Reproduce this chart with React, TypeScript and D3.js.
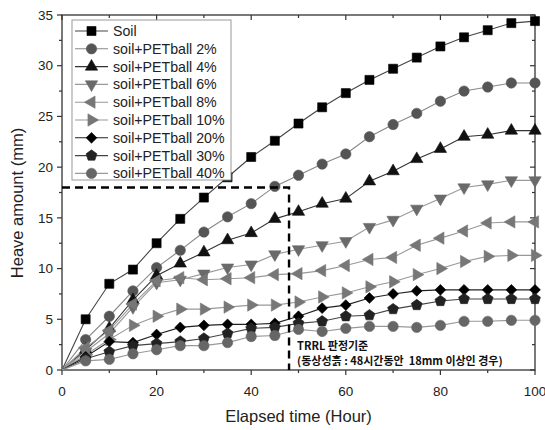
import { useEffect, useRef } from 'react';
import * as d3 from 'd3';

const hours = [0, 5, 10, 15, 20, 25, 30, 35, 40, 45, 50, 55, 60, 65, 70, 75, 80, 85, 90, 95, 100];

const soil = [0, 5.0, 8.5, 9.9, 12.5, 14.9, 17.0, 19.0, 21.0, 22.6, 24.3, 25.9, 27.3, 28.6, 29.7, 30.8, 31.9, 32.8, 33.5, 34.2, 34.4];
const pet2 = [0, 3.0, 5.3, 7.8, 10.1, 11.8, 13.6, 15.1, 16.4, 18.1, 19.2, 20.3, 21.3, 23.0, 24.2, 25.3, 26.5, 27.5, 27.9, 28.3, 28.3];
const pet4 = [0, 2.0, 4.1, 6.9, 9.3, 10.5, 11.6, 12.8, 13.5, 14.9, 15.6, 16.4, 16.9, 18.6, 19.6, 20.8, 21.8, 23.0, 23.2, 23.6, 23.6];
const pet6 = [0, 1.8, 3.6, 6.2, 8.6, 8.9, 9.5, 10.1, 10.4, 11.4, 11.9, 12.3, 12.7, 14.1, 14.8, 15.9, 16.9, 18.0, 18.3, 18.7, 18.7];
const pet8 = [0, 2.2, 3.9, 6.5, 8.8, 9.1, 8.9, 9.0, 9.1, 9.4, 9.5, 9.8, 10.3, 10.9, 11.1, 12.3, 13.0, 13.7, 14.5, 14.6, 14.6];
const pet10 = [0, 1.5, 3.0, 4.4, 5.3, 6.0, 6.0, 6.2, 6.4, 6.4, 6.7, 7.2, 7.6, 8.2, 8.7, 9.4, 10.0, 10.7, 11.2, 11.3, 11.3];
const pet20 = [0, 1.3, 2.8, 2.7, 3.5, 4.2, 4.4, 4.5, 4.5, 4.6, 5.3, 6.1, 6.4, 7.1, 7.5, 7.8, 7.9, 7.9, 7.9, 7.9, 7.9];
const pet30 = [0, 1.1, 1.8, 2.4, 2.6, 2.8, 3.1, 3.6, 4.1, 4.2, 4.6, 4.8, 5.3, 5.4, 6.0, 6.4, 6.8, 7.0, 7.0, 7.0, 7.0];
const pet40 = [0, 0.9, 1.05, 1.6, 2.0, 2.4, 2.4, 2.7, 3.3, 3.4, 4.0, 3.8, 4.1, 4.3, 4.3, 4.2, 4.4, 4.8, 4.8, 4.9, 4.9];

const seriesLabels = ['Soil', 'soil+PETball 2%', 'soil+PETball 4%', 'soil+PETball 6%', 'soil+PETball 8%', 'soil+PETball 10%', 'soil+PETball 20%', 'soil+PETball 30%', 'soil+PETball 40%'];
const seriesValues = [soil, pet2, pet4, pet6, pet8, pet10, pet20, pet30, pet40];

const xTicks = [0, 20, 40, 60, 80, 100];
const yTicks = [0, 5, 10, 15, 20, 25, 30, 35];

// TRRL criterion: 18 mm within 48 h
const criterionHour = 48;
const criterionHeave = 18;

// pentagon marker
const symbolPentagon = {
  draw(context: any, size: number) {
    const r = Math.sqrt(size / 2.378);
    for (let i = 0; i < 5; i++) {
      const a = -Math.PI / 2 + (i * 2 * Math.PI) / 5;
      const x = r * Math.cos(a);
      const y = r * Math.sin(a);
      if (i === 0) context.moveTo(x, y);
      else context.lineTo(x, y);
    }
    context.closePath();
  },
};

const styles = [
  { symbol: d3.symbolSquare, size: 82, rotate: 0, fill: '#000', line: '#444' },
  { symbol: d3.symbolCircle, size: 84, rotate: 0, fill: '#555', line: '#888' },
  { symbol: d3.symbolTriangle, size: 66, rotate: 0, fill: '#111', line: '#333' },
  { symbol: d3.symbolTriangle, size: 66, rotate: 180, fill: '#6a6a6a', line: '#999' },
  { symbol: d3.symbolTriangle, size: 66, rotate: -90, fill: '#777', line: '#999' },
  { symbol: d3.symbolTriangle, size: 66, rotate: 90, fill: '#777', line: '#999' },
  { symbol: d3.symbolSquare, size: 58, rotate: 45, fill: '#000', line: '#222' },
  { symbol: symbolPentagon, size: 78, rotate: 0, fill: '#222', line: '#444' },
  { symbol: d3.symbolCircle, size: 84, rotate: 0, fill: '#666', line: '#999' },
];

const App = () => {
  const svgRef = useRef<SVGSVGElement>(null);

  useEffect(() => {
    const svg = d3.select(svgRef.current);
    svg.selectAll('*').remove();

    const width = 545;
    const height = 430;
    const margin = { top: 15, right: 10, bottom: 60, left: 62 };
    const plotW = width - margin.left - margin.right;
    const plotH = height - margin.top - margin.bottom;

    svg.attr('width', width).attr('height', height);

    const x = d3.scaleLinear().domain([0, 100]).range([margin.left, margin.left + plotW]);
    const y = d3.scaleLinear().domain([0, 35]).range([margin.top + plotH, margin.top]);

    const font = 'Liberation Sans, Arial, sans-serif';
    const axisColor = '#333';

    // frame
    svg
      .append('rect')
      .attr('x', margin.left)
      .attr('y', margin.top)
      .attr('width', plotW)
      .attr('height', plotH)
      .attr('fill', 'none')
      .attr('stroke', axisColor)
      .attr('stroke-width', 1.3);

    const xMinor = d3.range(10, 100, 20);
    const yMinor = d3.range(2.5, 35, 5);

    const ticks = svg.append('g').attr('stroke', axisColor).attr('stroke-width', 1.2);
    // bottom (outward) and top (inward)
    xTicks.forEach(t => {
      ticks.append('line').attr('x1', x(t)).attr('x2', x(t)).attr('y1', y(0)).attr('y2', y(0) + 5);
      ticks.append('line').attr('x1', x(t)).attr('x2', x(t)).attr('y1', y(35)).attr('y2', y(35) + 5);
    });
    xMinor.forEach(t => {
      ticks.append('line').attr('x1', x(t)).attr('x2', x(t)).attr('y1', y(0)).attr('y2', y(0) + 3);
      ticks.append('line').attr('x1', x(t)).attr('x2', x(t)).attr('y1', y(35)).attr('y2', y(35) + 3);
    });
    // left (outward) and right (inward)
    yTicks.forEach(t => {
      ticks.append('line').attr('x1', x(0) - 5).attr('x2', x(0)).attr('y1', y(t)).attr('y2', y(t));
      ticks.append('line').attr('x1', x(100) - 5).attr('x2', x(100)).attr('y1', y(t)).attr('y2', y(t));
    });
    yMinor.forEach(t => {
      ticks.append('line').attr('x1', x(0) - 3).attr('x2', x(0)).attr('y1', y(t)).attr('y2', y(t));
      ticks.append('line').attr('x1', x(100) - 3).attr('x2', x(100)).attr('y1', y(t)).attr('y2', y(t));
    });

    // tick labels
    svg
      .append('g')
      .selectAll('text')
      .data(xTicks)
      .enter()
      .append('text')
      .attr('x', d => x(d))
      .attr('y', y(0) + 26)
      .attr('text-anchor', 'middle')
      .style('font-family', font)
      .style('font-size', '13.5px')
      .style('fill', '#222')
      .text(d => d);

    svg
      .append('g')
      .selectAll('text')
      .data(yTicks)
      .enter()
      .append('text')
      .attr('x', x(0) - 9)
      .attr('y', d => y(d))
      .attr('dy', '0.35em')
      .attr('text-anchor', 'end')
      .style('font-family', font)
      .style('font-size', '13.5px')
      .style('fill', '#222')
      .text(d => d);

    // axis titles
    svg
      .append('text')
      .attr('x', x(50))
      .attr('y', 422)
      .attr('text-anchor', 'middle')
      .style('font-family', font)
      .style('font-size', '16.5px')
      .style('fill', '#222')
      .text('Elapsed time (Hour)');

    svg
      .append('text')
      .attr('transform', `translate(23, 203) rotate(-90)`)
      .attr('text-anchor', 'middle')
      .style('font-family', font)
      .style('font-size', '16.5px')
      .style('fill', '#222')
      .text('Heave amount (mm)');

    // series lines + markers
    const line = d3
      .line<number>()
      .x((d, i) => x(hours[i]))
      .y(d => y(d));

    const sym = d3.symbol();

    seriesValues.forEach((vals, si) => {
      const st = styles[si];
      svg
        .append('path')
        .attr('d', line(vals))
        .attr('fill', 'none')
        .attr('stroke', st.line)
        .attr('stroke-width', 1.1);
    });

    seriesValues.forEach((vals, si) => {
      const st = styles[si];
      svg
        .append('g')
        .selectAll('path')
        .data(vals.slice(1))
        .enter()
        .append('path')
        .attr('d', sym.type(st.symbol as any).size(st.size)() as string)
        .attr('transform', (d, i) => `translate(${x(hours[i + 1])},${y(d)}) rotate(${st.rotate})`)
        .attr('fill', st.fill)
        .attr('stroke', st.fill)
        .attr('stroke-width', 0.6);
    });

    // criterion dashed lines
    svg
      .append('path')
      .attr('d', `M${x(0)},${y(criterionHeave)}H${x(criterionHour)}V${y(0)}`)
      .attr('fill', 'none')
      .attr('stroke', '#000')
      .attr('stroke-width', 2.4)
      .attr('stroke-dasharray', '8,5');

    // annotation
    const kfont = '"Noto Sans CJK KR", "Noto Sans", sans-serif';
    svg
      .append('text')
      .attr('x', x(criterionHour) + 8)
      .attr('y', 350)
      .style('font-family', kfont)
      .style('font-size', '11px')
      .style('font-weight', 'bold')
      .style('fill', '#111')
      .text('TRRL 판정기준');
    svg
      .append('text')
      .attr('x', x(criterionHour) + 8)
      .attr('y', 364.5)
      .style('font-family', kfont)
      .style('font-size', '11px')
      .style('font-weight', 'bold')
      .style('fill', '#111')
      .style('white-space', 'pre')
      .text('(동상성흙 : 48시간동안  18mm 이상인 경우)');

    // legend
    const legend = svg.append('g');
    legend
      .append('rect')
      .attr('x', 72)
      .attr('y', 20)
      .attr('width', 159)
      .attr('height', 160)
      .attr('fill', '#fff')
      .attr('stroke', '#999')
      .attr('stroke-width', 1);

    const rows = legend
      .selectAll('.legend')
      .data(seriesLabels)
      .enter()
      .append('g')
      .attr('class', 'legend')
      .attr('transform', (d, i) => `translate(0, ${31 + i * 17.8})`);

    rows
      .append('line')
      .attr('x1', 75)
      .attr('x2', 108)
      .attr('stroke', (d, i) => styles[i].line)
      .attr('stroke-width', 1.1);

    rows
      .append('path')
      .attr('d', (d, i) => sym.type(styles[i].symbol as any).size(styles[i].size)() as string)
      .attr('transform', (d, i) => `translate(91.5,0) rotate(${styles[i].rotate})`)
      .attr('fill', (d, i) => styles[i].fill)
      .attr('stroke', (d, i) => styles[i].fill)
      .attr('stroke-width', 0.6);

    rows
      .append('text')
      .attr('x', 113)
      .attr('dy', '0.35em')
      .style('font-family', font)
      .style('font-size', '14.2px')
      .style('fill', '#222')
      .text(d => d);
  }, []);

  return (
    <div style={{ position: 'absolute', left: 0, top: 0 }}>
      <svg ref={svgRef} style={{ display: 'block' }}></svg>
    </div>
  );
};

export default App;
